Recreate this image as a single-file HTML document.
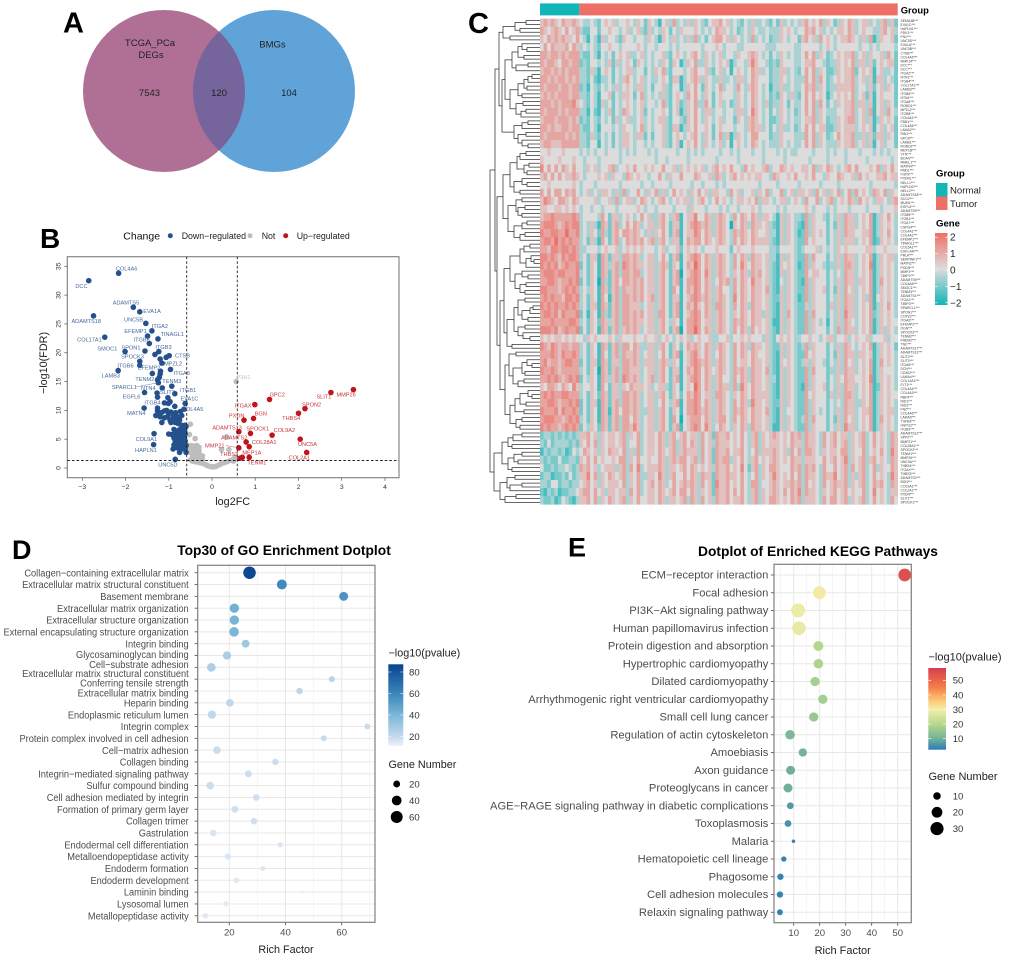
<!DOCTYPE html>
<html lang="en">
<head>
<meta charset="utf-8">
<title>Multi-panel enrichment figure</title>
<style>
html,body{margin:0;padding:0;background:#fff}
svg{display:block;font-family:"Liberation Sans",sans-serif}
</style>
</head>
<body>
<svg id="fig" xmlns="http://www.w3.org/2000/svg" width="1020" height="959" viewBox="0 0 1020 959">
<defs>
<clipPath id="venn-clip"><circle cx="164" cy="91" r="81"/></clipPath>
<linearGradient id="grad-gene" x1="0" y1="0" x2="0" y2="1"><stop offset="0" stop-color="#ee6f66"/><stop offset=".5" stop-color="#dcdcdc"/><stop offset="1" stop-color="#12b5b8"/></linearGradient>
<linearGradient id="grad-go" x1="0" y1="0" x2="0" y2="1"><stop offset="0" stop-color="#08448f"/><stop offset=".355" stop-color="#3a86ba"/><stop offset=".618" stop-color="#7ab6d8"/><stop offset=".882" stop-color="#c4d8ec"/><stop offset="1" stop-color="#eef2f8"/></linearGradient>
<linearGradient id="grad-kegg" x1="0" y1="0" x2="0" y2="1"><stop offset="0" stop-color="#d53e4f"/><stop offset=".24" stop-color="#f57f4a"/><stop offset=".4" stop-color="#fdc877"/><stop offset=".51" stop-color="#f3eeaa"/><stop offset=".69" stop-color="#b5d78c"/><stop offset=".87" stop-color="#6fb09a"/><stop offset="1" stop-color="#2b7bb8"/></linearGradient>
</defs>
<rect width="1020" height="959" fill="#fff"/>

<g>
<text x="63" y="32.7" font-size="29" font-weight="700">A</text>
<circle cx="274" cy="91" r="81" fill="#5fa3d8"/>
<circle cx="164" cy="91" r="81" fill="#b07095"/>
<circle cx="274" cy="91" r="81" fill="#75659c" clip-path="url(#venn-clip)"/>
<g font-size="9.5" fill="#222" text-anchor="middle">
<text x="150" y="46">TCGA_PCa</text>
<text x="151" y="58">DEGs</text>
<text x="272.5" y="47.5">BMGs</text>
<text x="149.5" y="96">7543</text>
<text x="219" y="96">120</text>
<text x="289" y="96">104</text>
</g>
</g>
<g id="panel-b"></g>
<g id="panel-c"></g>
<g id="panel-d"></g>
<g id="panel-e"></g>
</svg>
<script>
/* ---------- Volcano data ---------- */
const downFC=[-2.16,-2.85,-1.82,-1.67,-2.74,-1.53,-1.39,-1.49,-2.48,-1.25,-1.45,-2.01,-1.55,-1.23,-1.32,-0.99,-1.06,-1.2,-1.16,-1.67,-1.67,-0.96,-2.17,-1.38,-1.19,-1.2,-1.22,-1.26,-1.24,-0.93,-1.15,-1.56,-1.27,-1.26,-0.86,-1.02,-0.97,-0.62,-1.1,-1.01,-0.86,-1.57,-1.26,-0.65,-1.26,-1.23,-1.17,-1.1,-1.05,-1,-0.95,-0.9,-0.84,-0.73,-0.7,-1.3,-1.2,-1.1,-1.03,-0.97,-0.9,-0.85,-0.8,-0.75,-0.85,-0.95,-1.16,-0.78,-0.7,-0.63,-0.88,-0.7,-0.65,-0.6,-0.7,-0.63,-1,-0.93,-0.85,-0.77,-0.7,-0.62,-1.34,-1.35,-0.88,-0.8,-0.72,-0.64,-0.85,-0.78,-0.7,-0.62,-0.88,-0.8,-0.73,-0.65,-0.6,-0.9,-0.8,-0.7,-0.62,-0.75,-0.6,-0.85,-0.82,-0.76,-0.68,-0.66,-0.74,-0.83];
const downFDR=[33.8,32.5,27.9,27.1,26.4,25.1,23.8,22.9,22.7,22.4,21.6,20.2,20.3,20.2,19.7,19.5,19.2,18.9,18.2,18.5,17.8,17.1,16.9,16.4,16.8,16.3,15.7,15.3,14.8,14.2,13.9,13.1,13,12.3,12.9,12.2,11.5,11.2,11.3,11.2,10.7,10.4,10.4,10.2,9.9,9.4,9.6,9.9,10,9.5,9.7,9.2,9.6,9.8,9.1,9.1,8.9,8.7,8.9,8.3,8.7,8.4,8.9,8.3,7.9,7.9,7.9,7.7,7.4,7.4,6.7,6.9,6.8,7.2,6.3,6.4,5.9,5.8,5.9,5.9,5.8,5.9,5.96,4.05,5.2,5.2,5.3,5.3,4.6,4.6,4.6,4.7,4,4,4,4,3.9,3.3,3.5,3.3,3.4,2.7,2.7,1.5,6.2,6.6,5.6,5,4.9,3.8];
const notFC=[0.56,-0.5,-0.52,-0.39,0.34,0.22,0.39,-0.55,-0.48,-0.42,-0.35,-0.3,-0.52,-0.45,-0.38,-0.3,-0.5,-0.42,-0.35,-0.28,-0.22,-0.45,-0.38,-0.3,-0.22,-0.5,-0.45,-0.38,-0.3,-0.22,-0.15,-0.1,-0.05,0,0.05,0.1,0.15,0.2,0.28,0.35,0.42,0.5,0.55,0.5];
const notFDR=[15,7.6,5.8,5.1,5.4,3.2,3.2,3.9,3.9,3.8,3.9,3.6,3.3,3.2,3.2,3,2.7,2.6,2.5,2.3,2.1,2,1.9,1.7,1.5,1.4,1.2,1.05,0.95,0.8,0.6,0.4,0.3,0.2,0.2,0.3,0.5,0.7,0.9,1.1,1.3,1.6,1.9,1.2];
const upFC=[3.27,2.75,1.33,0.99,2.15,2,0.96,0.74,0.62,0.89,1.39,2.04,0.79,0.86,0.62,2.19,0.65,0.7,0.86];
const upFDR=[13.6,13.1,11.9,11,10.3,9.5,8.6,8.3,6.3,6,5.7,5,4.5,3.7,3.5,2.7,1.7,1.85,1.85];
const volcanoXTicks=[-3,-2,-1,0,1,2,3,4];
const volcanoYTicks=[0,5,10,15,20,25,30,35];
const labelNames=['COL4A6','DCC','ADAMTS5','EVA1A','ADAMTS18','UNC5B','ITGA2','EFEMP1','COL17A1','TINAGL1','ITGB8','SMOC1','SPON1','ITGB3','CTSB','SPOCK3','MPZL2','ITGB6','EFEMP2','ITGA8','LAMB3','TENM2','TENM3','SPARCL1','NTN4','ITGB1','SLIT2','EGFL6','EVA1C','ITGB4','COL4A5','MATN4','COL9A1','HAPLN1','UNC5D','MMP26','SLIT1','GPC2','ITGAX','SPON2','THBS4','BGN','PXDN','ADAMTS13','SPOCK1','COL9A2','ADAMTS2','COL28A1','MEP1A','UNC5A','MMP21','COL2A1','THBS3','TENM1','P3H1'];
const labelFC=[-2.16,-2.85,-1.82,-1.67,-2.74,-1.53,-1.39,-1.49,-2.48,-1.25,-1.45,-2.01,-1.55,-1.23,-0.99,-1.67,-1.16,-1.67,-1.38,-0.96,-2.17,-1.26,-0.93,-1.24,-1.15,-0.86,-1.27,-1.56,-0.62,-1.26,-0.65,-1.57,-1.34,-1.35,-0.85,3.27,2.75,1.33,0.99,2.15,2,0.96,0.74,0.62,0.89,1.39,0.79,0.79,0.86,2.04,0.62,2.19,0.65,0.86,0.56];
const labelFDR=[33.8,32.5,27.9,27.1,26.4,25.1,23.8,22.9,22.7,22.4,21.6,20.2,20.3,20.2,19.5,18.5,18.2,17.8,16.4,17.1,16.9,15.3,14.2,14.8,13.9,12.9,13,13.1,11.2,12.3,10.2,10.4,5.96,4.05,1.5,13.6,13.1,11.9,11,10.3,9.5,8.6,8.3,6.3,6,5.7,4.5,4.5,3.7,5,3.5,2.7,1.7,1.85,15];
const labelNudgeX=[8,-7.3,-7.3,12.3,-7.3,-12.3,8,-12,-15.3,14.3,-7.7,-17.7,-14,4.7,13.3,-7.3,11.3,-14.3,-3.3,11.3,-7.3,-12.7,0,-34,-14,13.3,10.3,-13,4.3,-5,8.7,-7.7,-7.7,-7.7,-7.3,-7.3,-7,7.7,-11.7,6.7,-7.3,7.3,-7.3,-11.7,7.3,12.3,-12,18,2.7,7.3,-24,-7.3,-11,7.7,7.3];
const labelNudgeY=[-4.7,5.3,-4.7,-1,5,-3.7,-5,-5,2.3,-4.7,-4,-3,-3.7,-4.7,0,-4.7,.3,.3,-5.7,3.7,5,-1,-5,4.3,.3,-3.7,-1,4,-4.7,5.3,-.3,5,5.3,5.3,5,5,4,-4.7,.7,-4.3,5,-5,-4.7,-4.3,-5,-5,-4.7,0,5.7,5,-2.3,5,-4.3,5,-4.7];

/* ---------- Heatmap data ---------- */
const groupNames=['Normal','Tumor'];
const groupColumns=[11,89];
const heatValues=[
"56565465565 4334324545 3445435425 4314536343 5354324556 4534324353 3432425343 4356454635 4235465345 534356352",
"65456546456 3224424454 4345345325 3435424354 4454343465 5434234354 3343335454 3446564534 3455465345 443356453",
"54656565546 4314315344 3254434435 4315435343 5363424566 4535434363 4342335434 4256453645 4345565435 361354452",
"46465556465 3434324454 4344445434 4344434344 4444344454 3444334444 4433344444 3344444345 4344444434 434344443",
"66566565666 3224314342 4545334534 3445324543 4564354345 3443544565 4342435434 3346463542 3454556345 354453642",
"65665466566 2324434352 5345425434 3435425413 5463354345 4513443575 4432325444 3345564432 3354546355 352454552",
"56656565666 3325314542 4345534424 3546324443 4564453245 3414543465 5342335534 3246463542 2354556245 451453342",
"66565665656 3324213342 4356434534 3345425513 4565354335 3343553465 4442335434 3336463642 3454556345 351553432",
"65666566566 2314324343 5345435534 2445324413 5464254346 3443643565 4341335334 3346563542 3355556344 352453542",
"56565666566 3324314452 4355424634 3435324543 6464354245 4443543465 4342325435 3246464541 3454546345 251454442",
"66656566675 4324315342 4345434534 4346324523 5463364245 3423543465 4352335424 3346463642 4354556355 351453542",
"65666565666 3314214352 4365434524 3445424513 5464355344 3443553475 4342435434 2346463543 3344556345 361453643",
"56665666565 2324324342 5345334534 3455324432 5464354345 3442543565 4342235434 3345563542 3354566345 351354542",
"66565566566 3224314443 4354434634 3445325513 5464454245 4443443565 5342435334 2346464552 2354555345 451453452",
"65666665656 3325324342 4355435524 2445324543 4564354246 3513543466 4442335444 3336463542 3464556335 352553542",
"56655566666 3324414342 4355434434 3445324514 5464354345 3414543465 4343335434 3346463543 3354556345 351453442",
"44544454444 3434344344 4343434443 4344444344 3434344443 4434344434 4344434343 3444434443 4344344434 443434344",
"54444544454 4344434444 4344444444 4344344444 3444444434 4444344444 4344444344 4444344443 4444344444 344444434",
"74646465464 4354534456 3445464454 5446445354 5454534564 5464436454 4563446545 4455463546 5434564644 454635464",
"56464645565 4344454535 4436545443 4464354464 4465445365 3456454545 5443654454 6445464435 4465445364 544556455",
"44544444454 3444344444 4344444344 3444434444 4344344434 3444444444 3444434444 4344444344 4434444444 434444443",
"64646646564 3453435543 5363446435 4635346454 3546453554 4364534453 5463446345 3554536453 5463463645 436546354",
"57654665465 4444534453 6345534654 3456434545 5345643464 5434554546 3554345534 5436446345 6345465364 543554356",
"55445545454 3443443444 3444445434 4344443444 3544434443 4344344454 3444434344 4445434443 4344434444 344434445",
"56676666676 3444436425 5345434645 3356435614 5574465356 5436465465 3554315354 3326354432 4353655345 461354643",
"67776567677 3435316525 6346465345 5356425514 5676565356 5405465365 5453215354 3216354442 4253655345 461354543",
"76677668667 3435426325 6466565435 3546425614 5576465356 5436565465 4453315354 3126354542 4353655445 561354643",
"67768676766 3425316425 6346565645 6356435514 6566465456 5436465465 5553215354 3226454442 4353555345 461254543",
"66577677676 3344434544 5345454544 4345344524 5454344454 4424544454 4443324444 3234445343 4354544444 553445444",
"77676576776 3425516525 5366565345 5346425614 5676465356 5436465365 5453315354 3226364442 4353655345 461354553",
"76767567667 2425416535 6376565545 5356525414 6586465356 5436475465 5453215454 3126354432 3353665345 471354543",
"67776776667 3425416525 6366566345 5356425604 5676475356 5435465365 6453215354 3226455442 4343655345 461354543",
"66776566767 2425406325 6466565645 5356425614 6676465346 5636465475 5453214354 3216354442 4353655355 461364543",
"77666567676 3435416525 6365565645 5356426414 6576465356 4436465465 5463215354 3226354452 4253645345 461354543",
"67676657767 3425416415 6366565645 6356425514 5676565356 5437465465 5453225354 3126354442 4353655345 361454543",
"76767667676 3425516525 6366555345 5356425614 6575465366 5436465365 5453215354 3225354442 5353655345 461354643",
"67767576667 2415416325 6366565645 5366425614 5676465356 5435465465 5353215364 3226364442 4353755345 462354543",
"66676666776 3425426535 6366565545 5356435414 6676455356 5436565465 5453115354 3226354341 4353654345 461354544",
"77767567667 2425416525 6356565345 5356425604 6686465356 5436465364 5453215354 3226354442 4363655345 461353543",
"54545545454 4354544454 3544454454 4534543454 5345445334 4534454544 4353245454 3344544345 5344534544 534445344",
"76576566566 3425416525 6366465335 5356425424 6565465356 5436465365 5453225354 3236354442 4353654345 461354542",
"66676576676 3425416425 6365565345 5346425614 5675465346 5436465465 4453215354 3226454442 4253655355 451354543",
"67566567766 2425516525 5366565355 5356535414 5676565356 5436455465 5453215454 3235354432 4353645345 461364543",
"76676566666 3425406525 6366555345 5356425514 6576465456 5436565365 5463215354 3226364442 3353655345 461354443",
"66767656767 2435416535 6376565345 6356425614 5676465356 4436465365 5453315354 3226354442 4354655445 471354543",
"54665465475 3445416425 5354655545 3455325414 5486465356 5536375465 5453215354 3216354452 4353655345 461254543",
"67676677666 3425426525 5366565345 5356425424 6576455366 5435465465 5553215354 3226454442 5353665345 461354544",
"66776566767 2425516525 6366565345 5346435614 6676465356 5436465375 5453225354 3226354442 4343655335 461354543",
"76667576676 2425416515 6466565335 5356425414 6676565356 5436565465 5463215344 3226354342 4353655345 561354553",
"67776656767 3425416525 6366465345 5356426404 5666465356 6436465465 5453215354 3236364442 4253645345 461364543",
"76766567676 2435426525 6366575345 5356425614 5676475346 5435465365 5453115354 3226354442 4353755345 461354543",
"23323232323 5564535455 4563546345 5465356456 4553645265 5645464356 3545654546 5636554364 5645535456 346454365",
"32423333232 5464635455 4563446345 5465356356 4653645365 5545464356 3545554546 5536554364 5645635456 346454365",
"13233231243 4654535465 5463536345 5465456356 5553645265 5645564346 3555654536 4636654354 5546635446 345464375",
"32322422332 5464645445 4663546445 4465356566 4563645265 6635464356 4545654546 5535554464 5645735456 356454365",
"42232334323 6564534555 3563647345 5565355456 4654545365 5645474256 3546654446 5636564364 4645636456 346354465",
"23312232423 5574635465 4563546335 5475356446 4653655265 5655464346 3545754546 4636554365 5745635356 346454375",
"33244233233 4564535455 5463546345 6465346456 5653645275 5645464366 3445654556 5636454364 5655635456 346564365",
"21323122334 5664645355 4553646345 5465456466 4653545265 5646464356 3545654646 5736554354 5645645446 347454355",
"32231243213 5564635465 4563546445 5465355456 3653645365 5645564356 3546654546 5635554364 6645635456 346454364"
];

/* ---------- Dendrogram data: [height, left, right], 0 = leaf ---------- */
const treeT=[37,[25,[14,0,0],[20,0,0]],[30,0,0]];
const treeA1=[28,[22,[18,0,[13,0,0]],[16,0,0]],[24,[12,0,0],0]];
const treeA2=[30,[22,[16,[12,[8,0,0],0],[13,0,0]],[18,0,0]],[24,[17,0,0],[19,[14,0,0],0]]];
const treeA4=[26,[18,[12,0,0],0],[22,[14,0,0],[18,0,[12,0,0]]]];
const treeB1=[30,[23,[20,[14,0,0],0],[16,[11,0,0],[13,0,0]]],[26,[18,0,[13,0,0]],[20,0,0]]];
const treeB2=[32,[24,[18,0,0],[22,[15,0,0],[18,0,0]]],[26,[18,[13,0,0],0],[20,[15,0,0],0]]];
const treeC1=[30,[20,[16,[10,0,0],0],[14,[9,0,[6,0,0]],0]],[25,[18,0,[12,0,0]],[20,[14,0,0],[15,0,0]]]];
const treeC2=[33,[26,[22,[15,0,0],[18,[10,[7,0,0],0],[12,0,0]]],[22,[15,0,0],[17,0,[10,0,0]]]],[28,0,0]];
const treeC3=[31,[24,0,0],[27,[18,[13,0,[8,0,0]],[15,0,0]],[22,[16,0,0],0]]];
const treeC4=[30,[25,[20,[12,0,[8,0,0]],[14,0,0]],[16,0,0]],[24,[18,0,0],[20,0,0]]];
const treeV1=[38,[32,[27,[18,0,0],0],[28,0,0]],[32,[26,[18,0,0],[22,0,0]],[28,0,0]]];
const treeV2=[40,[33,[25,0,0],[30,[18,0,0],0]],[35,[24,0,0],0]];
const treeRoot=[50,[45,[41,treeT,[38,[35,treeA1,treeA2],treeA4]],[43,[37,treeB1,treeB2],[40,[36,treeC1,treeC2],[35,treeC3,treeC4]]]],[46,treeV1,treeV2]];
const geneLabels=['SEMA3B','EVA1C','HAPLN1','PDK1','FN1','UNC5D','EVA1A','UNC5B','CTSB','COL4A5','MMP14','DCC','DCC','ITGA2','NTN1','ITGB4','COL17A1','LAMB3','ITGB6','NTN4','ITGA8','ROBO1','MPZL2','ITGB8','COL6A1','FBN1','COL4A6','LAMA2','RIN1','GPC6','LAMB1','ROBO2','MEP1B','VTN','BCAN','MMEL1','MATN4','RND1','FGF9','PXDNL','NELL1','HAPLN2','NELL2','ADAMTS18','SCG2','MUM1','EGFL6','ADAMTS9','ITGB5','ITGB1','ITGA7','CSPG4','COL4A1','COL4A2','EFEMP1','TINAGL1','COL5A1','EGFLAM','PRLR','SERPINF1','MATN2','PODN','MMP2','TIMP2','ADAMTS5','COL6A6','SMOC1','TENM3','ADAMTS1','ITGA1','TIMP3','SPARCL1','SPON1','COPZ2','ITGA9','EFEMP2','OGN','SPOCK3','TENM2','FREM2','TNC','ADAMTS17','ADAMTS13','SLIT2','SLIT3','ITGA6','DCN','CD302','LAMA4','COL14A1','FLT1','COL4A4','COL4A3','RBP4','NID1','NID2','FN2','COL4A6','LAMA5','TGFB3','HSPG2','ITGB3','ADAMTS12','SPP2','MMP21','COL28A1','SPOCK2','TENM1','MMP26','UNC5A','THBS4','ITGAX','THBS3','ADAMTS2','BGN','COL9A1','COL2A1','PXDN','SLIT1','SPOCK1'];
const geneColorTicks=[2,1,0,-1,-2];

/* ---------- GO dotplot data ---------- */
const goTerms=['Collagen−containing extracellular matrix','Extracellular matrix structural constituent','Basement membrane','Extracellular matrix organization','Extracellular structure organization','External encapsulating structure organization','Integrin binding','Glycosaminoglycan binding','Cell−substrate adhesion','Extracellular matrix structural constituent|Conferring tensile strength','Extracellular matrix binding','Heparin binding','Endoplasmic reticulum lumen','Integrin complex','Protein complex involved in cell adhesion','Cell−matrix adhesion','Collagen binding','Integrin−mediated signaling pathway','Sulfur compound binding','Cell adhesion mediated by integrin','Formation of primary germ layer','Collagen trimer','Gastrulation','Endodermal cell differentiation','Metalloendopeptidase activity','Endoderm formation','Endoderm development','Laminin binding','Lysosomal lumen','Metallopeptidase activity'];
const goRich=[27.2,38.7,60.7,21.8,21.8,21.7,25.8,19.2,13.6,56.5,45,20.2,13.8,69.1,53.6,15.6,36.4,26.8,13.2,29.6,22,28.8,14.3,38.1,19.5,31.9,22.5,45.9,18.7,11.5];
const goPval=[85,58,54,42,41,40,30,27,26,22,21,21,21,19,19,18,18,18,18,17,17,17,15,15,14,14,13,12,12,12];
const goGenes=[66,42,34,37,37,39,26,29,32,16,18,25,29,14,15,25,18,20,25,18,20,18,18,11,16,10,12,2,11,14];
const goXTicks=[20,40,60];
const goColorTicks=[80,60,40,20];
const goSizeTicks=[20,40,60];

/* ---------- KEGG dotplot data ---------- */
const keggTerms=['ECM−receptor interaction','Focal adhesion','PI3K−Akt signaling pathway','Human papillomavirus infection','Protein digestion and absorption','Hypertrophic cardiomyopathy','Dilated cardiomyopathy','Arrhythmogenic right ventricular cardiomyopathy','Small cell lung cancer','Regulation of actin cytoskeleton','Amoebiasis','Axon guidance','Proteoglycans in cancer','AGE−RAGE signaling pathway in diabetic complications','Toxoplasmosis','Malaria','Hematopoietic cell lineage','Phagosome','Cell adhesion molecules','Relaxin signaling pathway'];
const keggRich=[52.7,19.9,11.7,12,19.5,19.5,18.2,21.2,17.7,8.6,13.5,8.8,7.8,8.7,7.8,9.9,6.2,4.9,4.7,4.7];
const keggPval=[55,31,29,28,20,19,18,17.5,16,12,11,10,10,7,6,4,4,4,4,4];
const keggGenes=[28,29,34,32,17,16,15,15,15,16,12,14,14,8,8,2,5,7,7,6];
const keggXTicks=[10,20,30,40,50];
const keggColorTicks=[50,40,30,20,10];
const keggSizeTicks=[10,20,30];

/* ---------- Helpers ---------- */
const NS='http://www.w3.org/2000/svg';
function mk(parent,tag,attrs){
  const el=document.createElementNS(NS,tag);
  for(const k in attrs) el.setAttribute(k,attrs[k]);
  parent.appendChild(el);
  return el;
}
function txt(parent,x,y,s,size,anchor,fill,weight){
  return mkText(parent,x,y+size*0.35,s,size,anchor,fill,weight);
}
function mkText(parent,x,y,s,size,anchor,fill,weight){
  const el=mk(parent,'text',{x:x,y:y,'font-size':size,'text-anchor':anchor||'start',fill:fill||'#000','font-weight':weight||400});
  el.textContent=s;
  return el;
}
function hexRgb(h){return [parseInt(h.substr(1,2),16),parseInt(h.substr(3,2),16),parseInt(h.substr(5,2),16)];}
function ramp(vals,cols,v){
  if(v<=vals[0]) return cols[0];
  for(let i=1;i<vals.length;i++){
    if(v<=vals[i]){
      const f=(v-vals[i-1])/(vals[i]-vals[i-1]);
      const a=hexRgb(cols[i-1]),b=hexRgb(cols[i]);
      return 'rgb('+a.map((c,k)=>Math.round(c+(b[k]-c)*f)).join(',')+')';
    }
  }
  return cols[cols.length-1];
}

/* ---------- Panel B: volcano ---------- */
(function(){
  const g=document.getElementById('panel-b');
  const bx=67.3,bX=399,by=256.7,bY=477.7;
  const xV=v=>212+43.24*v, yV=v=>468-5.763*v;
  const letter=mkText(g,40,248,'B',28,'start','#000',700);
  
  
  const box=mk(g,'rect',{x:bx,y:by,width:bX-bx,height:bY-by,fill:'#fff',stroke:'#7f7f7f','stroke-width':1.1});
  
  
  volcanoXTicks.forEach(t=>{
    const m=mk(g,'line',{x1:xV(t),x2:xV(t),y1:bY,y2:bY+3,stroke:'#555','stroke-width':.7});
    
    
    const l=txt(g,xV(t),bY+9,String(t).replace('-','−'),6.8,'middle','#333');
    
    
  });
  volcanoYTicks.forEach(t=>{
    const m=mk(g,'line',{x1:bx-3,x2:bx,y1:yV(t),y2:yV(t),stroke:'#555','stroke-width':.7});
    
    
    const l=mk(g,'text',{transform:'translate('+(bx-7)+','+yV(t)+') rotate(-90)','font-size':6.8,'text-anchor':'middle',fill:'#333'});
    l.textContent=t;
    
    
  });
  const vColors=['#24508c','#bdbdbd','#c0141c'];
  const vSeries=[[notFC,notFDR,1,'not-point'],[downFC,downFDR,0,'down-point'],[upFC,upFDR,2,'up-point']];
  vSeries.forEach(s=>{
    s[0].forEach((fc,i)=>{
      const c=mk(g,'circle',{cx:xV(fc),cy:yV(s[1][i]),r:2.8,fill:vColors[s[2]]});
      
      
    });
  });
  [-0.585,0.585].forEach(v=>{
    const l=mk(g,'line',{x1:xV(v),x2:xV(v),y1:by,y2:bY,stroke:'#222','stroke-width':.9,'stroke-dasharray':'2.6 2'});
    
    
  });
  const hl=mk(g,'line',{x1:bx,x2:bX,y1:yV(1.3),y2:yV(1.3),stroke:'#222','stroke-width':.9,'stroke-dasharray':'2.6 2'});
  
  
  labelNames.forEach((n,i)=>{
    const col=labelFC[i]<-0.585?'#47689a':(n==='P3H1'?'#c4c4c4':'#c8343a');
    const px=xV(labelFC[i]),py=yV(labelFDR[i]),lx=px+labelNudgeX[i],ly=py+labelNudgeY[i];
    if(Math.abs(labelNudgeX[i])>20){
      const cn=mk(g,'line',{x1:px,y1:py,x2:lx+(labelNudgeX[i]<0?11:-11),y2:ly,stroke:col,'stroke-width':.4});
      
      
    }
    const t=txt(g,lx,ly,n,5.6,'middle',col);
    
    
  });
  const legendTitle=txt(g,141.7,235.7,'Change',10.5,'middle','#111');
  
  
  const legNames=['Down−regulated','Not','Up−regulated'];
  const legDotX=[170.3,250,285.7];
  const legTextX=[181.7,261.7,296.7];
  legNames.forEach((n,i)=>{
    const d=mk(g,'circle',{cx:legDotX[i],cy:235.7,r:2.5,fill:vColors[i]});
    
    
    const t=txt(g,legTextX[i],235.7,n,8.8,'start','#222');
    
    
  });
  const xt=txt(g,232.7,501,'log2FC',10.8,'middle','#222');
  
  
  const yt=mk(g,'text',{transform:'translate(47,363) rotate(-90)','font-size':10.8,'text-anchor':'middle',fill:'#222'});
  yt.textContent='−log10(FDR)';
  
  
})();

/* ---------- Panel C: heatmap ---------- */
(function(){
  const g=document.getElementById('panel-c');
  const hx=540,hX=897.7,hy=18.7,hY=504.3;
  const letter=mkText(g,468,33,'C',29,'start','#000',700);
  
  
  const nCols=groupColumns[0]+groupColumns[1];
  const cw=(hX-hx)/nCols, rh=(hY-hy)/heatValues.length;
  const under=mk(g,'rect',{x:hx,y:hy,width:hX-hx,height:hY-hy,fill:'#dcdcdc'});
  
  
  const heatColor=d=>ramp([0,4,8],['#12b5b8','#dcdcdc','#ee6f66'],d);
  heatValues.forEach((row,r)=>{
    const digits=row.replace(/\s/g,'');
    for(let c=0;c<digits.length;c++){
      const cell=mk(g,'rect',{x:hx+c*cw,y:hy+r*rh,width:cw+.3,height:rh+.3,fill:heatColor(+digits[c])});
      
      
    }
  });
  const groupCol=['#12b5b8','#ee6f66'];
  let start=0;
  groupColumns.forEach((n,i)=>{
    const b=mk(g,'rect',{x:hx+start*cw,y:3.4,width:n*cw,height:12,fill:groupCol[i]});
    
    
    start+=n;
  });
  const gt=txt(g,900.7,10,'Group',9.4,'start','#000',700);
  
  
  /* dendrogram */
  const leaves=(n=>{let c=0;(function w(a){if(a===0){c++;return;}w(a[1]);w(a[2]);})(n);return c;})(treeRoot);
  const step=(hY-hy)/leaves;
  let leaf=0;
  const xH=h=>540-h;
  function draw(node){
    if(node===0){leaf++;return {x:540,y:hy+(leaf-.5)*step};}
    const a=draw(node[1]),b=draw(node[2]),x=xH(node[0]);
    const p=mk(g,'path',{d:'M'+a.x+' '+a.y+'H'+x+'V'+b.y+'H'+b.x,fill:'none',stroke:'#333','stroke-width':.75});
    
    
    return {x:x,y:(a.y+b.y)/2};
  }
  draw(treeRoot);
  geneLabels.forEach((n,i)=>{
    const lStep=(hY-hy)/geneLabels.length;
    const t=txt(g,900.5,hy+(i+.5)*lStep,n+'***',3.4,'start','#444');
    
    
  });
  /* legends */
  const lg=txt(g,936,173,'Group',9.6,'start','#000',700);
  
  
  groupNames.forEach((n,i)=>{
    const s=mk(g,'rect',{x:936,y:183+i*13.5,width:11.5,height:13.5,fill:groupCol[i]});
    
    
    const t=txt(g,950,190+i*13.5,n,9.6,'start','#222');
    
    
  });
  const gg=txt(g,936,223,'Gene',9.6,'start','#000',700);
  
  
  const cb=mk(g,'rect',{x:935,y:233,width:12.5,height:72,fill:'url(#grad-gene)'});
  
  
  geneColorTicks.forEach(v=>{
    const y=270-v*16.4;
    const tk=mk(g,'path',{d:'M935 '+y+'h2.5M945 '+y+'h2.5',stroke:'#fff','stroke-width':.6});
    
    
    const t=txt(g,950,y,String(v).replace('-','−'),10,'start','#222');
    
    
  });
})();

/* ---------- Dot plots ---------- */
function dotPlot(cfg){
  const g=cfg.g;
  const xS=v=>cfg.x0+(v-cfg.x0v)*cfg.xk, yS=i=>cfg.y0+i*cfg.ystep;
  const box=mk(g,'rect',{x:cfg.bx,y:cfg.by,width:cfg.bX-cfg.bx,height:cfg.bY-cfg.by,fill:'#fff'});
  
  
  cfg.minor.forEach(v=>{
    const l=mk(g,'line',{x1:xS(v),x2:xS(v),y1:cfg.by,y2:cfg.bY,stroke:'#f0f0f0','stroke-width':.6});
    
    
  });
  cfg.xticks.forEach(v=>{
    const l=mk(g,'line',{x1:xS(v),x2:xS(v),y1:cfg.by,y2:cfg.bY,stroke:'#e8e8e8','stroke-width':1});
    
    
    const m=mk(g,'line',{x1:xS(v),x2:xS(v),y1:cfg.bY,y2:cfg.bY+3,stroke:'#444','stroke-width':.8});
    
    
    const t=txt(g,xS(v),cfg.bY+10,String(v),cfg.tickSize,'middle','#4d4d4d');
    
    
  });
  cfg.terms.forEach((term,i)=>{
    const y=yS(i);
    const gl=mk(g,'line',{x1:cfg.bx,x2:cfg.bX,y1:y,y2:y,stroke:'#e8e8e8','stroke-width':1});
    
    
    const m=mk(g,'line',{x1:cfg.bx-3,x2:cfg.bx,y1:y,y2:y,stroke:'#444','stroke-width':.8});
    
    
    const parts=term.split('|');
    parts.forEach((p,k)=>{
      const ly=y+(cfg.shift[i]||0)+(parts.length>1?(k-.5)*9.7-1:0);
      const base=ly+cfg.labelSize*.35;
      const t=mk(g,'text',{transform:'translate('+cfg.labelX+','+base+') scale('+cfg.labelScale+',1)','font-size':cfg.labelSize,'text-anchor':'end',fill:'#4d4d4d'});
      t.textContent=p;
      
      
    });
  });
  const border=mk(g,'rect',{x:cfg.bx,y:cfg.by,width:cfg.bX-cfg.bx,height:cfg.bY-cfg.by,fill:'none',stroke:'#808080','stroke-width':1.2});
  
  
  cfg.rich.forEach((v,i)=>{
    const c=mk(g,'circle',{cx:xS(v),cy:yS(i),r:cfg.rk*Math.sqrt(cfg.genes[i]),fill:cfg.color(cfg.pval[i])});
    
    
  });
  const xt=txt(g,cfg.xTitleX,cfg.xTitleY,'Rich Factor',cfg.titleSize,'middle','#222');
  
  
  const ttl=txt(g,cfg.titleX,cfg.titleY,cfg.title,cfg.headSize,'middle','#000',700);
  
  
  const pl=mkText(g,cfg.headX,cfg.headY,cfg.head,cfg.headLetterSize,'start','#000',700);
  
  
  /* legends */
  const cTitle=txt(g,cfg.legX,cfg.cTitleY,'−log10(pvalue)',cfg.legTitleSize,'start','#222');
  
  
  const cb=mk(g,'rect',{x:cfg.barX,y:cfg.barY,width:cfg.barW,height:cfg.barH,fill:cfg.grad});
  
  
  cfg.colorTicks.forEach(v=>{
    const y=cfg.cy0-(v-cfg.cv0)*cfg.cyk;
    const tk=mk(g,'path',{d:'M'+cfg.barX+' '+y+'h3M'+(cfg.barX+cfg.barW-3)+' '+y+'h3',stroke:'#fff','stroke-width':.6});
    
    
    const t=txt(g,cfg.legLabelX,y,String(v),cfg.tickSize,'start','#333');
    
    
  });
  const sTitle=txt(g,cfg.legX,cfg.sTitleY,'Gene Number',cfg.legTitleSize,'start','#222');
  
  
  cfg.sizeTicks.forEach((v,i)=>{
    const y=cfg.sizeY+i*cfg.sizeStep;
    const d=mk(g,'circle',{cx:cfg.sizeX,cy:y,r:cfg.rk*Math.sqrt(v),fill:'#000'});
    
    
    const t=txt(g,cfg.legLabelX,y,String(v),cfg.tickSize,'start','#333');
    
    
  });
}
dotPlot({
  g:document.getElementById('panel-d'),id:'go',terms:goTerms,rich:goRich,pval:goPval,genes:goGenes,
  bx:197.7,bX:375,by:565.3,bY:922.3,x0:229.3,x0v:20,xk:2.81,y0:572.7,ystep:11.83,
  xticks:goXTicks,minor:[30,50,70],tickSize:9.6,labelX:188.7,labelSize:10.3,labelScale:.9,
  shift:{7:-1.2,8:-3,10:1.7},rk:.77,
  color:v=>ramp([11,20,40,60,87],['#e6edf6','#c4d8ec','#7ab6d8','#3a86ba','#08448f'],v),
  xTitleX:286,xTitleY:949,titleSize:10.8,title:'Top30 of GO Enrichment Dotplot',titleX:284,titleY:550,headSize:13.8,
  head:'D',headX:12,headY:559,headLetterSize:27,
  legX:388.5,cTitleY:652.7,legTitleSize:10.8,barX:388.3,barY:664.3,barW:15,barH:81.7,grad:'url(#grad-go)',
  cy0:736.5,cv0:20,cyk:1.075,colorTicks:goColorTicks,legLabelX:409,sTitleY:764,
  sizeTicks:goSizeTicks,sizeX:396.7,sizeY:784,sizeStep:16.5
});
dotPlot({
  g:document.getElementById('panel-e'),id:'kegg',terms:keggTerms,rich:keggRich,pval:keggPval,genes:keggGenes,
  bx:774,bX:911.3,by:564.3,bY:922.7,x0:793.7,x0v:10,xk:2.6,y0:575,ystep:17.75,
  xticks:keggXTicks,minor:[5,15,25,35,45,55],tickSize:9.6,labelX:768.3,labelSize:10.6,labelScale:1.057,
  shift:{},rk:1.2,
  color:v=>ramp([3,10,20,30,40,47,58],['#2b7bb8','#6fb09a','#b5d78c','#f3eeaa','#fdc877','#f57f4a','#d53e4f'],v),
  xTitleX:842.7,xTitleY:950,titleSize:11,title:'Dotplot of Enriched KEGG Pathways',titleX:818,titleY:551,headSize:13.8,
  head:'E',headX:568,headY:556.7,headLetterSize:27,
  legX:928.5,cTitleY:656.7,legTitleSize:11,barX:928.3,barY:668,barW:17.7,barH:81.7,grad:'url(#grad-kegg)',
  cy0:738.7,cv0:10,cyk:1.46,colorTicks:keggColorTicks,legLabelX:952.7,sTitleY:776,
  sizeTicks:keggSizeTicks,sizeX:937,sizeY:796,sizeStep:16.3
});
</script>
</body>
</html>
